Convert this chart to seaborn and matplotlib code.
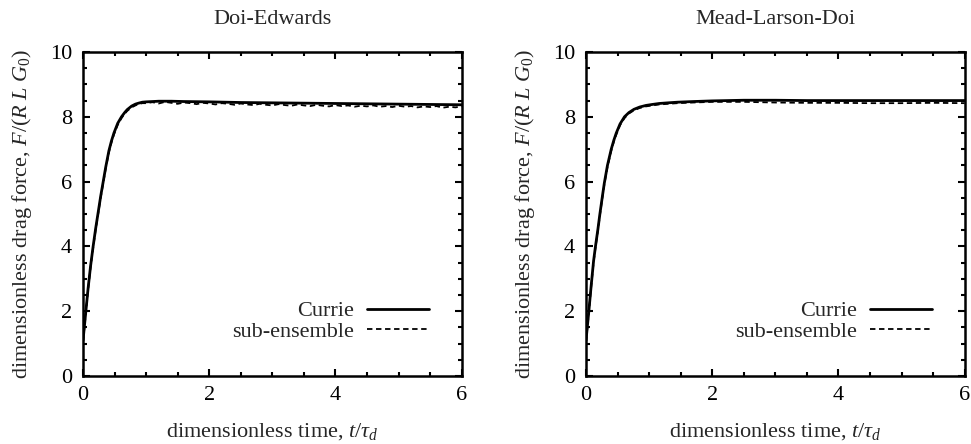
import matplotlib
matplotlib.use("Agg")
import matplotlib.pyplot as plt
from matplotlib.ticker import MultipleLocator
import seaborn as sns
import pandas as pd

# ---- data -------------------------------------------------------------
titles = ["Doi-Edwards", "Mead-Larson-Doi"]

# Doi-Edwards, Currie approximation
de_currie_t = [0.0, 0.02, 0.045, 0.08, 0.12, 0.16, 0.20, 0.24, 0.28, 0.32,
               0.36, 0.41, 0.45, 0.49, 0.55, 0.61, 0.66, 0.70, 0.77, 0.83,
               0.88, 0.94, 1.0, 1.1, 1.2, 1.4, 1.6, 2.0, 2.5, 3.0, 3.5,
               4.0, 4.5, 5.0, 5.5, 6.0]
de_currie_f = [1.10, 1.50, 2.00, 2.70, 3.40, 4.00, 4.55, 5.05, 5.55, 6.00,
               6.45, 6.95, 7.25, 7.50, 7.80, 8.00, 8.13, 8.22, 8.33, 8.39,
               8.42, 8.45, 8.46, 8.47, 8.48, 8.48, 8.47, 8.46, 8.44, 8.43,
               8.42, 8.41, 8.40, 8.39, 8.38, 8.37]

# Doi-Edwards, sub-ensemble simulation
de_sub_t = [0.0, 0.02, 0.045, 0.08, 0.12, 0.16, 0.20, 0.24, 0.28, 0.32,
            0.36, 0.41, 0.45, 0.49, 0.55, 0.61, 0.66, 0.70, 0.77, 0.83,
            0.88, 0.94,
            1.0, 1.1, 1.2, 1.3, 1.4, 1.5, 1.6, 1.7, 1.8, 1.9,
            2.0, 2.1, 2.2, 2.3, 2.4, 2.5, 2.6, 2.7, 2.8, 2.9,
            3.0, 3.1, 3.2, 3.3, 3.4, 3.5, 3.6, 3.7, 3.8, 3.9,
            4.0, 4.1, 4.2, 4.3, 4.4, 4.5, 4.6, 4.7, 4.8, 4.9,
            5.0, 5.1, 5.2, 5.3, 5.4, 5.5, 5.6, 5.7, 5.8, 5.9, 6.0]
de_sub_f = [1.05, 1.45, 1.95, 2.65, 3.35, 3.95, 4.50, 5.00, 5.50, 5.95,
            6.40, 6.90, 7.20, 7.45, 7.75, 7.96, 8.09, 8.18, 8.29, 8.35,
            8.39, 8.42,
            8.42, 8.45, 8.41, 8.46, 8.43, 8.40, 8.44, 8.42, 8.39, 8.43,
            8.41, 8.38, 8.42, 8.40, 8.37, 8.41, 8.38, 8.36, 8.40, 8.37,
            8.35, 8.39, 8.36, 8.34, 8.38, 8.35, 8.33, 8.37, 8.34, 8.32,
            8.36, 8.33, 8.35, 8.31, 8.34, 8.32, 8.35, 8.31, 8.33, 8.30,
            8.34, 8.31, 8.33, 8.29, 8.32, 8.30, 8.33, 8.28, 8.31, 8.29, 8.32]

# Mead-Larson-Doi, Currie approximation
mld_currie_t = [0.0, 0.02, 0.045, 0.08, 0.12, 0.15, 0.19, 0.22, 0.26, 0.29,
                0.34, 0.40, 0.44, 0.48, 0.54, 0.61, 0.68, 0.76, 0.85, 0.95,
                1.05, 1.16, 1.30, 1.45, 1.70, 2.0, 2.5, 3.0, 3.5, 4.0,
                4.5, 5.0, 5.5, 6.0]
mld_currie_f = [1.10, 1.50, 2.00, 2.75, 3.55, 4.00, 4.55, 5.00, 5.55, 5.95,
                6.50, 7.00, 7.27, 7.50, 7.78, 8.00, 8.13, 8.23, 8.30, 8.35,
                8.38, 8.41, 8.43, 8.45, 8.47, 8.49, 8.51, 8.51, 8.50, 8.50,
                8.50, 8.50, 8.50, 8.50]

# Mead-Larson-Doi, sub-ensemble simulation
mld_sub_t = [0.0, 0.02, 0.045, 0.08, 0.12, 0.15, 0.19, 0.22, 0.26, 0.29,
             0.34, 0.40, 0.44, 0.48, 0.54, 0.61, 0.68, 0.76, 0.85, 0.95,
             1.05, 1.16, 1.30, 1.45, 1.70, 2.0, 2.5, 3.0, 3.5, 4.0,
             4.5, 5.0, 5.5, 6.0]
mld_sub_f = [1.05, 1.45, 1.95, 2.70, 3.50, 3.95, 4.50, 4.95, 5.50, 5.90,
             6.45, 6.95, 7.22, 7.45, 7.74, 7.96, 8.10, 8.20, 8.27, 8.32,
             8.35, 8.38, 8.40, 8.42, 8.44, 8.46, 8.46, 8.44, 8.43, 8.43,
             8.42, 8.42, 8.43, 8.42]

x_ticks = [0, 2, 4, 6]
y_ticks = [0, 2, 4, 6, 8, 10]

# ---- style ------------------------------------------------------------
sns.set_style("ticks")
plt.rcParams.update({
    "font.family": ["Liberation Serif", "DejaVu Serif"],
    "mathtext.fontset": "custom",
    "mathtext.rm": "Liberation Serif",
    "mathtext.it": "Liberation Serif:italic",
    "mathtext.bf": "Liberation Serif:bold",
    "font.size": 16,
    "axes.edgecolor": "black",
    "axes.linewidth": 1.8,
    "xtick.color": "black",
    "ytick.color": "black",
})

fig = plt.figure(figsize=(9.71, 4.44), dpi=100)
axes = [fig.add_axes([0.0855, 0.153, 0.390, 0.730]),
        fig.add_axes([0.6035, 0.153, 0.390, 0.730])]

series = [
    (de_currie_t, de_currie_f, de_sub_t, de_sub_f),
    (mld_currie_t, mld_currie_f, mld_sub_t, mld_sub_f),
]

for ax, title, (ct, cf, st, sf) in zip(axes, titles, series):
    currie = pd.DataFrame({"t": ct, "F": cf})
    sub = pd.DataFrame({"t": st, "F": sf})
    sns.lineplot(data=currie, x="t", y="F", ax=ax, color="black",
                 linewidth=2.0, estimator=None, sort=False, label="Currie")
    sns.lineplot(data=sub, x="t", y="F", ax=ax, color="black",
                 linewidth=1.3, estimator=None, sort=False,
                 linestyle=(0, (3.0, 2.0)), label="sub-ensemble")

    ax.set_xlim(0, 6)
    ax.set_ylim(0, 10)
    ax.set_xticks(x_ticks)
    ax.set_yticks(y_ticks)
    ax.xaxis.set_minor_locator(MultipleLocator(0.5))
    ax.yaxis.set_minor_locator(MultipleLocator(0.5))
    ax.tick_params(which="both", direction="in", top=True, right=True,
                   width=1.5, labelsize=16)
    ax.tick_params(which="major", length=5)
    ax.tick_params(which="minor", length=3)
    ax.tick_params(axis="x", which="major", pad=7)
    ax.tick_params(axis="y", which="major", pad=8)
    for s in ax.spines.values():
        s.set_visible(True)
        s.set_linewidth(1.8)

    ax.set_title(title, fontsize=16, pad=20)
    ax.set_xlabel(r"dimensionless time, $t/\tau_d$", fontsize=16, labelpad=12)
    ax.set_ylabel(r"dimensionless drag force, $F/(R\ L\ G_{\mathit{0}})$",
                  fontsize=16, labelpad=11)

    ax.legend(loc="lower right", bbox_to_anchor=(0.913, 0.105),
              frameon=False, markerfirst=False, fontsize=16,
              handlelength=2.8, handletextpad=0.55, labelspacing=0.0,
              borderpad=0, borderaxespad=0)

fig.savefig("out.png", dpi=100, facecolor="white")
